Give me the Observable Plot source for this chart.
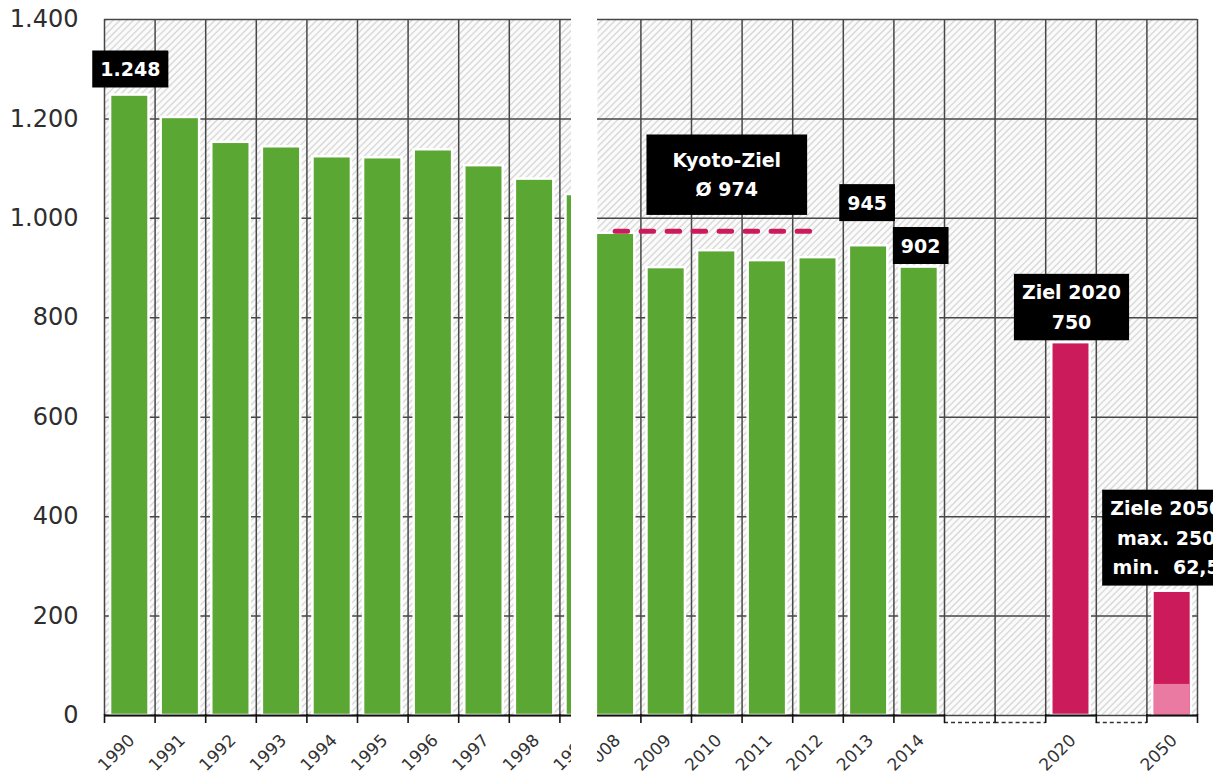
<!DOCTYPE html>
<html>
<head>
<meta charset="utf-8">
<script src="https://cdn.jsdelivr.net/npm/d3@7"></script>
<script src="https://cdn.jsdelivr.net/npm/@observablehq/plot@0.6"></script>
<style>
  html, body { margin: 0; padding: 0; background: #fff; }
  #chart { position: relative; width: 1213px; height: 779px; overflow: hidden; }
  .panel { position: absolute; top: 0; height: 779px; overflow: hidden; }
  .panel svg { position: absolute; top: 0; max-width: none !important; }
</style>
</head>
<body>
<div id="chart">
  <div class="panel" id="leftPanel" style="left:0;width:571px"></div>
  <div class="panel" id="rightPanel" style="left:597px;width:616px"></div>
</div>
<script>
// ---------- data ----------
const yearsLeft = ["1990", "1991", "1992", "1993", "1994", "1995", "1996", "1997", "1998", "1999"];
const valuesLeft = [1248, 1203, 1153, 1144, 1124, 1122, 1138, 1106, 1079, 1048];

const slotsRight = ["2008", "2009", "2010", "2011", "2012", "2013", "2014", "", "", "2020", "", "2050"];
const valuesRight = [970, 901, 935, 915, 921, 945, 902, null, null, 750, null, 250];
const targetYears = ["2020", "2050"];
const minTarget2050 = 62.5;

const yTicks = [0, 200, 400, 600, 800, 1000, 1200, 1400];

const kyotoFrom = "2008";
const kyotoTo = "2012";
const kyotoValue = 974;
const kyotoText = "Kyoto-Ziel\nØ 974";

const calloutYears = ["1990", "2013", "2014", "2020", "2050"];
const calloutTexts = ["1.248", "945", "902", "Ziel 2020\n750", "Ziele 2050\nmax. 250\nmin.  62,5"];

// ---------- styles / layout ----------
const W = 1213, H = 779;
const colW = 50.6;
const green = "#5ba733", magenta = "#cc1b5b", pink = "#ea7aa2", grid = "#474747";
const calloutOffset = {"1990": [0.5, -28.5], "2013": [-1.5, -45.5], "2014": [1.5, -24], "2020": [0.5, -38], "2050": [-6, -56]};
const fmtDE = d => d3.format(",")(d).replace(/,/g, ".");

const leftData = yearsLeft.map((year, i) => ({year, i, value: valuesLeft[i]}));
const rightData = slotsRight.map((year, i) => ({year, i, value: valuesRight[i], blank: year === "", target: targetYears.includes(year)}));

const byYear = new Map([...leftData, ...rightData].filter(d => d.year).map(d => [d.year, d]));
const callouts = calloutYears.map((y, k) => ({...byYear.get(y), text: calloutTexts[k], off: calloutOffset[y]}));
const leftCallouts = callouts.filter(d => yearsLeft.includes(d.year));
const rightCallouts = callouts.filter(d => slotsRight.includes(d.year));
const kyoto = [{i1: byYear.get(kyotoFrom).i + 0.5, i2: byYear.get(kyotoTo).i + 0.5, value: kyotoValue, text: kyotoText}];

const baseStyle = {fontFamily: "DejaVu Sans", background: "transparent", overflow: "visible", maxWidth: "none"};
const tickLabelOpts = {frameAnchor: "bottom", text: "year", rotate: -45, textAnchor: "end", lineAnchor: "middle", dx: 2, dy: 22, fontSize: 17, fill: "#333"};

function calloutText(data, fill, dx, dy) {
  return Plot.text(data, {
    x: d => d.i + 0.5, y: "value", text: "text", dx, dy,
    fill, fontWeight: "bold", fontSize: 19, lineHeight: 1.55, lineAnchor: "middle"
  });
}

function commonMarks(boundaries) {
  return [
    Plot.frame({fill: "url(#hatch)", stroke: "none"}),
    Plot.ruleY(yTicks, {stroke: grid, strokeWidth: 1.5}),
    Plot.ruleX(boundaries, {x: d => d, stroke: grid, strokeWidth: 1.5}),
  ];
}

// ---------- left panel ----------
const leftBoundaries = leftData.map(d => d.i);
const leftMarks = [
  ...commonMarks(leftBoundaries),
  Plot.rect(leftData, {x1: d => d.i + 0.12, x2: d => d.i + 0.88, y1: () => 0, y2: "value", fill: green, stroke: "white", strokeWidth: 2.5}),
  Plot.ruleY(leftData, {x1: "i", x2: d => d.i + 1, y: () => 0, stroke: "#111", strokeWidth: 2.2}),
  Plot.ruleX(leftBoundaries, {x: d => d, y1: () => 0, y2: () => 0, insetTop: -1, insetBottom: -8, stroke: "#111", strokeWidth: 1.6}),
  Plot.axisY({ticks: yTicks, tickSize: 0, tickPadding: 26, tickFormat: fmtDE, fontSize: 24, fill: "#2e2e2e", label: null}),
  Plot.text(leftData, {x: d => d.i + 0.5, ...tickLabelOpts})
];
for (const c of leftCallouts) leftMarks.push(calloutText([c], "white", c.off[0], c.off[1]));

const left = Plot.plot({
  width: W, height: H,
  marginLeft: 104, marginRight: W - 571, marginTop: 19, marginBottom: H - 715,
  x: {domain: [0, (571 - 104) / colW], axis: null},
  y: {domain: [0, 1400], axis: null},
  style: baseStyle,
  marks: leftMarks
});

// ---------- right panel ----------
const rightBoundaries = rightData.map(d => d.i + 1);
const barsRight = rightData.filter(d => d.value != null);
const rightMarks = [
  ...commonMarks(rightBoundaries),
  Plot.rect(barsRight, {x1: d => d.i + 0.12, x2: d => d.i + 0.88, y1: () => 0, y2: "value", fill: d => d.target ? magenta : green, stroke: "white", strokeWidth: 2.5}),
  Plot.rect(rightData.filter(d => d.year === "2050"), {x1: d => d.i + 0.12, x2: d => d.i + 0.88, y1: () => 0, y2: () => minTarget2050, fill: pink, insetLeft: 1.25, insetRight: 1.25}),
  Plot.ruleY(rightData.filter(d => !d.blank), {x1: "i", x2: d => d.i + 1, y: () => 0, stroke: "#111", strokeWidth: 2.2}),
  Plot.ruleY(rightData.filter(d => d.blank), {x1: "i", x2: d => d.i + 1, y: () => 0, dy: 7, stroke: "#333", strokeWidth: 1.6, strokeDasharray: "4,3"}),
  Plot.ruleX(rightBoundaries, {x: d => d, y1: () => 0, y2: () => 0, insetTop: -1, insetBottom: -8, stroke: "#111", strokeWidth: 1.6}),
  Plot.ruleY(kyoto, {x1: "i1", x2: "i2", y: "value", stroke: magenta, strokeWidth: 5, strokeDasharray: "12.5,13.5", strokeLinecap: "round"}),
  Plot.text(rightData.filter(d => !d.blank), {x: d => d.i + 0.5, ...tickLabelOpts}),
  Plot.text(kyoto, {x: d => (d.i1 + d.i2) / 2, y: "value", text: "text", dx: 10, dy: -59, fill: "#ffffff", fontWeight: "bold", fontSize: 19, lineHeight: 1.55, lineAnchor: "middle"})
];
for (const c of rightCallouts) rightMarks.push(calloutText([c], "white", c.off[0], c.off[1]));

const right = Plot.plot({
  width: W, height: H,
  marginLeft: 597, marginRight: W - 1197, marginTop: 19, marginBottom: H - 715,
  x: {domain: [(597 - (1197 - 12 * colW)) / colW, 12], axis: null},
  y: {domain: [0, 1400], axis: null},
  style: baseStyle,
  marks: rightMarks
});
right.style.left = "-597px";

document.getElementById("leftPanel").appendChild(left);
document.getElementById("rightPanel").appendChild(right);

// hatch pattern
const defs = d3.select(left).insert("defs", ":first-child");
const pat = defs.append("pattern").attr("id", "hatch").attr("patternUnits", "userSpaceOnUse")
  .attr("width", 4.8).attr("height", 4.8).attr("patternTransform", "rotate(45)");
pat.append("rect").attr("width", 4.8).attr("height", 4.8).attr("fill", "#fcfcfc");
pat.append("line").attr("x1", 2.4).attr("y1", -1).attr("x2", 2.4).attr("y2", 6).attr("stroke", "#d3d3d3").attr("stroke-width", 1.3);

// black boxes behind callout texts (padding derived from each text's own extent)
function boxes(svg, fillSel, padX, padY) {
  svg.querySelectorAll(`g[fill="${fillSel}"] text`).forEach(t => {
    const bb = t.getBBox();
    const r = document.createElementNS("http://www.w3.org/2000/svg", "rect");
    r.setAttribute("x", bb.x - padX);
    r.setAttribute("y", bb.y - padY);
    r.setAttribute("width", bb.width + 2 * padX);
    r.setAttribute("height", bb.height + 2 * padY);
    r.setAttribute("fill", "#000");
    if (t.getAttribute("transform")) r.setAttribute("transform", t.getAttribute("transform"));
    t.parentNode.insertBefore(r, t);
  });
}
boxes(left, "white", 8, 7.5);
boxes(right, "white", 8, 7.5);
boxes(right, "#ffffff", 26, 14.5);
</script>
</body>
</html>
